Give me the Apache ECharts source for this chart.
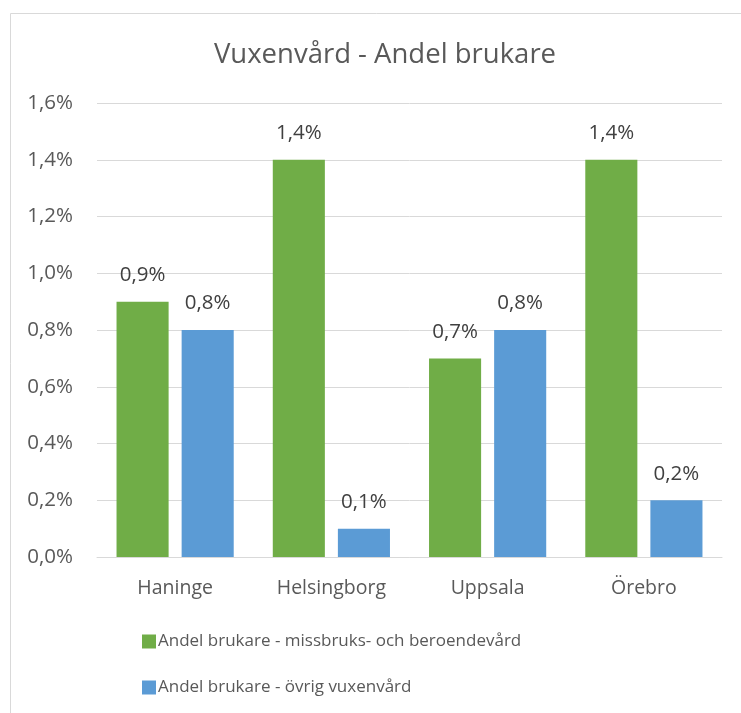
<!DOCTYPE html>
<html><head><meta charset="utf-8">
<script src="https://cdn.jsdelivr.net/npm/echarts@6/dist/echarts.min.js"></script>
<style>html,body{margin:0;padding:0;background:#fff}#c{width:741px;height:713px}</style>
</head><body><div id="c"></div>
<script>
const categories = ['Haninge', 'Helsingborg', 'Uppsala', 'Örebro'];
const seriesNames = ['Andel brukare - missbruks- och beroendevård', 'Andel brukare - övrig vuxenvård'];
const missbruk = [0.9, 1.4, 0.7, 1.4];
const ovrig = [0.8, 0.1, 0.8, 0.2];
const yTicks = [0, 0.2, 0.4, 0.6, 0.8, 1.0, 1.2, 1.4, 1.6];
const colors = ['#70AD47', '#5B9BD5'];
const fmt = v => v.toFixed(1).replace('.', ',') + '%';
const font = '"Open Sans", "Noto Sans", sans-serif';
const chart = echarts.init(document.getElementById('c'));
chart.setOption({
  animation: false,
  textStyle: { fontFamily: font },
  graphic: [{ type: 'rect', left: 8, top: 11, shape: { width: 800, height: 800 }, style: { fill: 'none', stroke: '#d9d9d9', lineWidth: 1 } }],
  title: { text: 'Vuxenvård - Andel brukare', left: 380, top: 36, textAlign: 'center',
    textStyle: { fontFamily: font, fontSize: 27.5, fontWeight: 'normal', color: '#595959' } },
  legend: { orient: 'vertical', left: 137, top: 628, itemGap: 29, itemWidth: 14, itemHeight: 14,
    icon: 'rect', textStyle: { fontFamily: font, fontSize: 17, color: '#595959', padding: [0, 0, 0, -3] },
    data: seriesNames },
  grid: { left: 97, right: 19, top: 103, bottom: 156, containLabel: false },
  xAxis: { type: 'category', data: categories,
    axisLine: { lineStyle: { color: '#d9d9d9', width: 1 } }, axisTick: { show: false },
    axisLabel: { fontFamily: font, fontSize: 19.5, color: '#595959', margin: 21 } },
  yAxis: { type: 'value', min: yTicks[0], max: yTicks[yTicks.length - 1], interval: 0.2,
    axisLine: { show: false }, axisTick: { show: false },
    splitLine: { lineStyle: { color: '#d9d9d9', width: 1 } },
    axisLabel: { fontFamily: font, fontSize: 20.5, color: '#595959', margin: 24, formatter: v => fmt(v) } },
  series: [
    { name: seriesNames[0], type: 'bar', data: missbruk, itemStyle: { color: colors[0] },
      barGap: '25%', barCategoryGap: '25%',
      label: { show: true, position: 'top', distance: 16, fontFamily: font, fontSize: 20.5, color: '#404040', formatter: p => fmt(p.value) } },
    { name: seriesNames[1], type: 'bar', data: ovrig, itemStyle: { color: colors[1] },
      barGap: '25%', barCategoryGap: '25%',
      label: { show: true, position: 'top', distance: 16, fontFamily: font, fontSize: 20.5, color: '#404040', formatter: p => fmt(p.value) } }
  ]
});
</script></body></html>
